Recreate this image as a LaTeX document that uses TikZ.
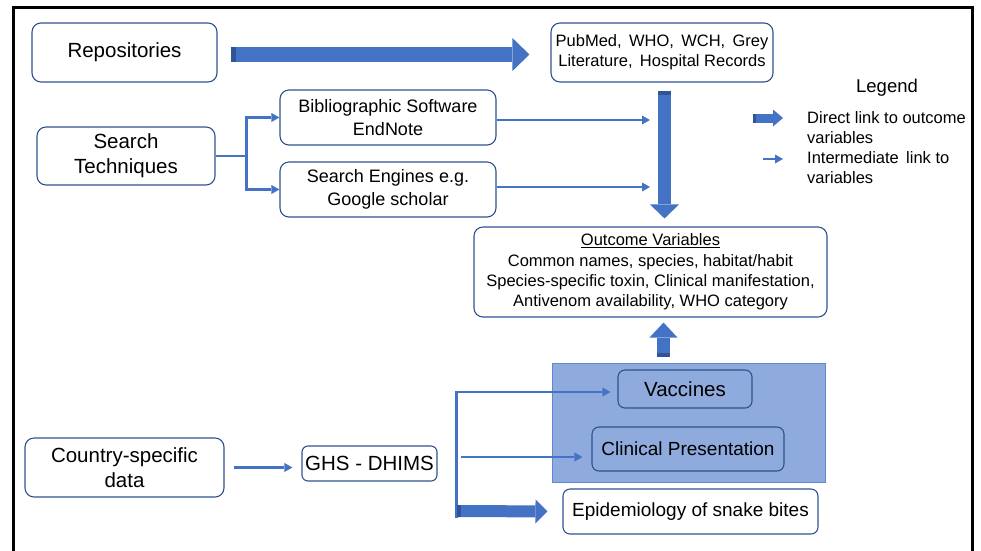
\documentclass[tikz,border=0pt]{standalone}
\usepackage{fontspec}
\setmainfont{Liberation Sans}
\usepackage{xcolor}
\usepackage{tikz}
\usetikzlibrary{arrows.meta, positioning, calc}
\definecolor{arblue}{HTML}{4472C4}
\definecolor{edgeblue}{HTML}{2F528F}
\definecolor{grpfill}{HTML}{8FAADC}
\definecolor{tailblue}{HTML}{2F5597}
\tikzstyle{box} = [rectangle, rounded corners=9pt, draw=edgeblue, line width=1.1pt, fill=white, align=center, inner sep=0pt]
\tikzstyle{large} = [font=\fontsize{20.5}{25}\selectfont]
\tikzstyle{medium} = [font=\fontsize{18}{23}\selectfont]
\tikzstyle{small} = [font=\fontsize{16.5}{20.3}\selectfont]
\tikzstyle{link} = [line width=2.5pt, arblue, -{Triangle[length=8pt 0 0, width=9pt 0 0, line width=0pt]}]
\tikzset{blockarrow/.style n args={3}{line width=#1, arblue, -{Triangle[length=#3 0 0, width=#2 0 0, line width=0pt]}}}

\begin{document}
\begin{tikzpicture}[x=1pt, y=-1pt]
        \useasboundingbox (0,0) rectangle (981,550);
        % Frame
        \draw[line width=3pt] (13,7) rectangle (972,575);

        % Sources
        \node (repo) [box, large, minimum width=185pt, minimum height=59pt] at (124.5,52.5) {Repositories};
        \node (pub) [box, small, minimum width=222pt, minimum height=59pt] at (662,52.5) {PubMed,\, WHO,\, WCH,\, Grey\\Literature,\, Hospital Records};
        \node (srch) [box, large, minimum width=178pt, minimum height=58pt] at (126,156) {Search\\Techniques};
        \node (bib) [box, medium, minimum width=216pt, minimum height=55pt] at (388,117.5) {Bibliographic Software\\EndNote};
        \node (se) [box, medium, minimum width=216pt, minimum height=55pt] at (388,189.5) {Search Engines e.g.\\Google scholar};

        % Outcome
        \node (out) [box, small, minimum width=353pt, minimum height=90pt] at (650.5,272) {\underline{Outcome Variables}\\Common names, species, habitat/habit\\Species-specific toxin, Clinical manifestation,\\Antivenom availability, WHO category};

        % Country data
        \node (cty) [box, large, minimum width=199pt, minimum height=59pt] at (124.5,467.5) {Country-specific\\data};
        \node (ghs) [box, large, rounded corners=6pt, minimum width=135pt, minimum height=35pt] at (369.5,463.5) {GHS - DHIMS};
        \node (grp) [rectangle, draw=arblue!85, line width=1pt, fill=grpfill, minimum width=273pt, minimum height=119pt] at (688.5,422.5) {};
        \node (vac) [box, large, fill=none, rounded corners=7pt, minimum width=134pt, minimum height=38pt] at (685,389) {Vaccines};
        \node (clin) [box, font=\fontsize{19}{23}\selectfont, fill=none, rounded corners=7pt, minimum width=192pt, minimum height=44pt] at (688,449) {Clinical Presentation};
        \node (epi) [box, font=\fontsize{19}{23}\selectfont, rounded corners=7pt, minimum width=255pt, minimum height=45pt] at (690.5,511.5) {Epidemiology of snake bites};

        % Legend
        \node (legend) [font=\fontsize{18.5}{22}\selectfont] at (887,88) {Legend};
        \node (ldirect) [small, align=left, anchor=west, inner sep=0pt] at (807,127.5) {Direct link to outcome\\variables};
        \node (linter) [small, align=left, anchor=west, inner sep=0pt] at (807,167.5) {Intermediate\, link to\\variables};
        \coordinate (lg1) at ($(ldirect.west)+(-54,-9.5)$);
        \coordinate (lg2) at ($(linter.west)+(-44,-8.5)$);
        \draw[blockarrow={9pt}{17pt}{10pt}] (lg1) -- ++(30,0);
        \draw[tailblue, line width=9pt] (lg1) -- ++(3,0);
        \draw[link] (lg2) -- ++(20,0);

        % Block arrows
        \coordinate (r1) at ($(repo.east)+(13,2)$);
        \draw[blockarrow={15pt}{33pt}{17pt}, shorten >=21pt] (r1) -- (r1 -| pub.west);
        \draw[tailblue, line width=15pt] (r1) -- ++(5,0);
        \coordinate (p1) at ($(pub.south)+(2.5,8)$);
        \draw[blockarrow={13pt}{29pt}{14pt}, shorten >=8pt] (p1) -- (p1 |- out.north);
        \draw[tailblue, line width=13pt] (p1) -- ++(0,4);
        \coordinate (u1) at ($(grp.north)+(-25,-6)$);
        \draw[blockarrow={13pt}{28pt}{15pt}, shorten >=5pt] (u1) -- (u1 |- out.south);
        \draw[tailblue, line width=13pt] (u1) -- ++(0,-4);

        % Thin links
        \draw[link] (srch.east) -- ++(31,0) |- (bib.west);
        \draw[link] (srch.east) -- ++(31,0) |- (se.west);
        \draw[link, shorten >=14.5pt] ($(bib.east)+(0,2.5)$) -- ($(bib.east -| p1)+(0,2.5)$);
        \draw[link, shorten >=14.5pt] ($(se.east)+(0,-2.5)$) -- ($(se.east -| p1)+(0,-2.5)$);
        \draw[link, shorten <=9pt, shorten >=9pt] (cty.east) -- (cty.east -| ghs.west);

        % Branch from GHS - DHIMS
        \coordinate (tr) at ($(ghs.east)+(19,0)$);
        \draw[link, shorten >=7pt] ($(tr |- epi.west)+(0,6)$) |- ($(vac.west)+(0,3)$);
        \draw[link, shorten >=9pt] ($(tr |- clin.west)+(4,8)$) -- ($(clin.west)+(0,8)$);
        \coordinate (e1) at ($(tr |- epi.west)+(0,-0.5)$);
        \draw[blockarrow={12pt}{24pt}{12pt}, shorten >=15pt] (e1) -- (epi.west);
        \draw[tailblue, line width=12pt] (e1) -- ++(4,0);
      \end{tikzpicture}
\end{document}
